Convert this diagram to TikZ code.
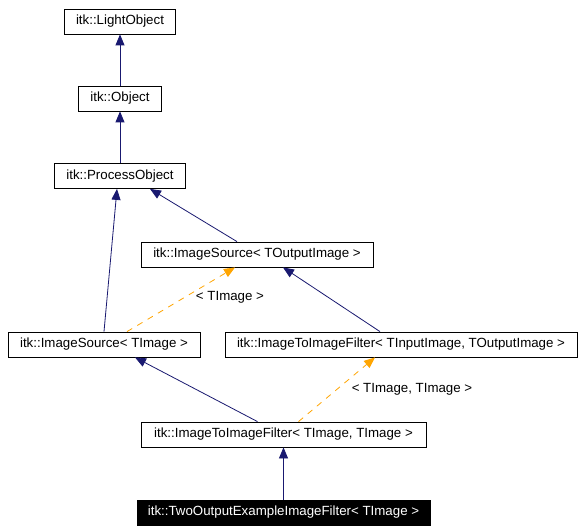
\documentclass[tikz,border=0pt]{standalone}
\usepackage{fontspec}
\setmainfont{Liberation Sans}
\usetikzlibrary{arrows.meta}
\definecolor{edgenavy}{HTML}{191970}
\definecolor{tmplorange}{HTML}{FFA500}
\begin{document}
\begin{tikzpicture}[x=1pt, y=-1pt,
    cls/.style={draw=black, line width=0.8pt, fill=white, minimum height=25pt,
        inner xsep=10pt, inner ysep=0pt, font=\fontsize{13.3}{16}\selectfont},
    clsthis/.style={cls, fill=black, text=white},
    inherit/.style={edgenavy, line width=0.8pt, -{Triangle[length=11pt, width=9pt]}},
    tmpl/.style={tmplorange, line width=0.8pt, dash pattern=on 6pt off 6pt,
        -{Triangle[length=11pt, width=9pt]}},
    tmpllbl/.style={font=\fontsize{13.3}{16}\selectfont}]
    % 画布
    \fill[white] (0,0) rectangle (583,532);
    \useasboundingbox (0,0) rectangle (583,532);

    % 1. 类节点
    \node[cls, minimum width=111pt] (light) at (120,21.5) {itk::LightObject};
    \node[cls, minimum width=83pt] (obj) at (120,98.5) {itk::Object};
    \node[cls, minimum width=131pt] (po) at (120,176) {itk::ProcessObject};
    \node[cls, minimum width=232pt] (isout) at (257,254.5) {itk::ImageSource< TOutputImage >};
    \node[cls, minimum width=192pt] (is) at (104,344.5) {itk::ImageSource< TImage >};
    \node[cls, minimum width=352pt] (itif2) at (401,344.5) {itk::ImageToImageFilter< TInputImage, TOutputImage >};
    \node[cls, minimum width=285pt] (itif) at (283.5,434.5) {itk::ImageToImageFilter< TImage, TImage >};
    \node[clsthis, minimum width=293pt] (two) at (283.5,512.5) {itk::TwoOutputExampleImageFilter< TImage >};

    % 2. 继承关系
    \draw[inherit] (obj.north) -- (light.south);
    \draw[inherit] (po.north) -- (obj.south);
    \draw[inherit] (is.north) -- ([xshift=-3pt]po.south);
    \draw[inherit] ([xshift=-20pt]isout.north) -- ([xshift=30pt]po.south);
    \draw[inherit] ([xshift=-21pt]itif2.north) -- ([xshift=26pt]isout.south);
    \draw[inherit] ([xshift=-26pt]itif.north) -- ([xshift=31pt]is.south);
    \draw[inherit] (two.north) -- (itif.south);

    % 3. 模板实例化
    \draw[tmpl] ([xshift=23pt]is.north) -- ([xshift=-22pt]isout.south);
    \node[tmpllbl] (lblis) at (230,297) {< TImage >};
    \draw[tmpl] ([xshift=15pt]itif.north) -- ([xshift=-26pt]itif2.south);
    \node[tmpllbl] (lblitif) at (412,389) {< TImage, TImage >};
\end{tikzpicture}
\end{document}
